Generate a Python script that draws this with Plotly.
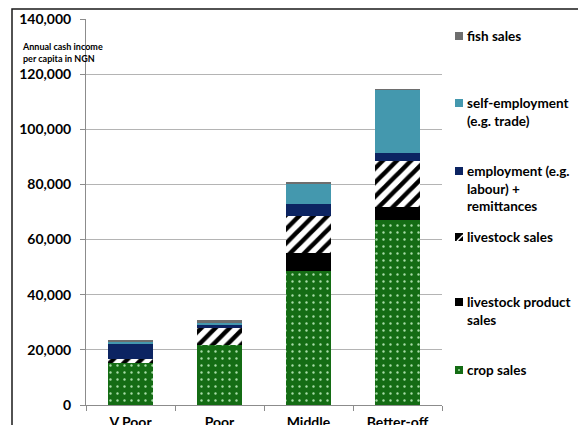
import plotly.graph_objects as go

# Wealth groups and annual cash income per capita (NGN) by source
groups = ["V Poor", "Poor", "Middle", "Better-off"]
crop_sales = [15300, 21800, 48700, 67100]
livestock_product_sales = [0, 0, 6500, 4600]
livestock_sales = [1300, 6400, 13400, 16900]
employment = [5400, 700, 4200, 2900]
self_employment = [1100, 950, 7400, 22800]
fish_sales = [400, 850, 700, 300]

y_ticks = [0, 20000, 40000, 60000, 80000, 100000, 120000, 140000]

FONT = "Lato"
GREEN = "#146c14"
NAVY = "#0c2462"
TEAL = "#4498ae"
GREY = "#6e6e6e"

fig = go.Figure()

fig.add_bar(x=groups, y=crop_sales, name="crop sales",
            marker=dict(color=GREEN, line=dict(width=0),
                        pattern=dict(shape=".", bgcolor=GREEN, fgcolor="#a8dca8",
                                     size=7, solidity=0.09, fillmode="replace")))
fig.add_bar(x=groups, y=livestock_product_sales, name="livestock product sales",
            marker=dict(color="#000000", line=dict(width=0)))
fig.add_bar(x=groups, y=livestock_sales, name="livestock sales",
            marker=dict(color="#ffffff", line=dict(width=0),
                        pattern=dict(shape="/", bgcolor="#ffffff", fgcolor="#000000",
                                     size=10, solidity=0.45, fillmode="replace")))
fig.add_bar(x=groups, y=employment, name="employment",
            marker=dict(color=NAVY, line=dict(width=0)))
fig.add_bar(x=groups, y=self_employment, name="self-employment",
            marker=dict(color=TEAL, line=dict(width=0)))
fig.add_bar(x=groups, y=fish_sales, name="fish sales",
            marker=dict(color=GREY, line=dict(width=0)))

# plot area geometry (pixels) used to place the side key
W, H = 578, 425
L, R, T, B = 86, 136, 19, 20
PW, PH = W - L - R, H - T - B


def px_x(px):
    return (px - L) / PW


def px_y(py):
    return (H - B - py) / PH


# key entries: label lines, icon colour, first-line centre (px)
key_entries = [
    (["fish sales"], GREY, 36),
    (["self-employment", "(e.g. trade)"], TEAL, 103),
    (["employment (e.g.", "labour) +", "remittances"], NAVY, 171),
    (["livestock sales"], "hatch", 237),
    (["livestock product", "sales"], "#000000", 302),
    (["crop sales"], GREEN, 370),
]

annotations = []
shapes = []
LINE_STEP = 17.5
for lines, colour, y0 in key_entries:
    for i, line in enumerate(lines):
        annotations.append(dict(
            text=line, xref="paper", yref="paper",
            x=px_x(465), y=px_y(y0 + i * LINE_STEP),
            xanchor="left", yanchor="middle", showarrow=False,
            font=dict(family=FONT, size=13.5, color="#000000", weight="bold")))
    ix0, ix1 = px_x(455), px_x(463)
    iy0, iy1 = px_y(y0 + 4), px_y(y0 - 4)
    if colour == "hatch":
        shapes.append(dict(type="rect", xref="paper", yref="paper",
                           x0=ix0, x1=ix1, y0=iy0, y1=iy1,
                           fillcolor="#000000", line=dict(width=0)))
        shapes.append(dict(type="line", xref="paper", yref="paper",
                           x0=px_x(457), x1=px_x(463), y0=px_y(y0 + 4), y1=px_y(y0 - 2),
                           line=dict(color="#ffffff", width=1.5)))
    else:
        shapes.append(dict(type="rect", xref="paper", yref="paper",
                           x0=ix0, x1=ix1, y0=iy0, y1=iy1,
                           fillcolor=colour, line=dict(width=0)))
        if colour == GREEN:
            shapes.append(dict(type="rect", xref="paper", yref="paper",
                               x0=px_x(458), x1=px_x(460), y0=px_y(y0 + 1), y1=px_y(y0 - 1),
                               fillcolor="#7cc47c", line=dict(width=0)))

# y-axis caption
annotations.append(dict(
    text="Annual cash income<br>per capita in NGN", xref="paper", yref="paper",
    x=px_x(20), y=px_y(39), xanchor="left", yanchor="top", align="left",
    showarrow=False,
    font=dict(family=FONT, size=9, color="#000000", weight="bold")))

# outer chart frame
shapes.append(dict(type="rect", xref="paper", yref="paper",
                   x0=px_x(12), x1=px_x(600), y0=px_y(9), y1=px_y(450),
                   line=dict(color="#1a1a1a", width=1.5), fillcolor="rgba(0,0,0,0)",
                   layer="below"))

fig.update_layout(
    width=W, height=H,
    margin=dict(l=L, r=R, t=T, b=B, autoexpand=False),
    barmode="stack",
    bargap=0.5,
    showlegend=False,
    plot_bgcolor="#ffffff",
    paper_bgcolor="#ffffff",
    font=dict(family=FONT, color="#000000"),
    annotations=annotations,
    shapes=shapes,
)

fig.update_xaxes(
    categoryorder="array", categoryarray=groups,
    automargin=False,
    showline=True, linecolor="#8c8c8c", linewidth=1,
    ticks="outside", tickson="boundaries", ticklen=5, tickcolor="#8c8c8c",
    showgrid=False,
    ticklabelstandoff=4,
    tickfont=dict(family=FONT, size=14, color="#000000", weight="bold"),
)

fig.update_yaxes(
    range=[0, 140000],
    automargin=False,
    tickvals=y_ticks,
    ticktext=[f"{v:,}" for v in y_ticks],
    showline=True, linecolor="#8c8c8c", linewidth=1,
    ticks="outside", ticklen=5, tickcolor="#8c8c8c",
    showgrid=True, gridcolor="#b4b4b4", gridwidth=1,
    zeroline=False,
    ticklabelstandoff=6,
    tickfont=dict(family=FONT, size=14, color="#000000", weight="bold"),
)

fig.write_html("out.html")
